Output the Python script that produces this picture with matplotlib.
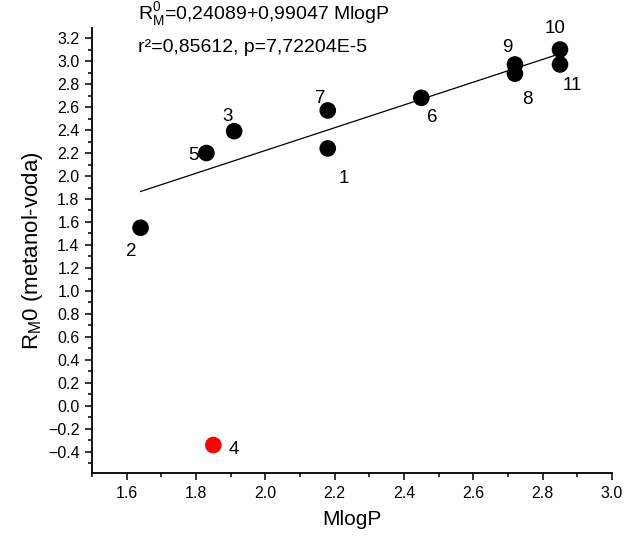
import matplotlib.pyplot as plt
from matplotlib.ticker import MultipleLocator

plt.rcParams['font.family'] = ['Liberation Sans', 'DejaVu Sans']

# podaci
labels = ['1', '2', '3', '4', '5', '6', '7', '8', '9', '10', '11']
mlogp = [2.18, 1.64, 1.91, 1.85, 1.83, 2.45, 2.18, 2.72, 2.72, 2.85, 2.85]
rm0 = [2.24, 1.55, 2.39, -0.34, 2.20, 2.68, 2.57, 2.89, 2.97, 3.10, 2.97]
colors = ['black', 'black', 'black', 'red', 'black', 'black',
          'black', 'black', 'black', 'black', 'black']
# pomak oznaka u pikselima
offsets = [(16, -30), (-9, -24), (-7, 15), (20, -4), (-13, -2), (11, -20),
           (-7, 12), (12, -26), (-8, 17), (-5, 21), (12, -21)]

intercept = 0.24089
slope = 0.99047

fig = plt.figure(figsize=(6.44, 5.43), dpi=100)
ax = fig.add_axes([0.1429, 0.1289, 0.8074, 0.8195])

# regresiona prava (bez tacke 4)
fit_x = [min(mlogp), max(mlogp)]
fit_y = [intercept + slope * x for x in fit_x]
ax.plot(fit_x, fit_y, color='black', lw=0.9)

ax.scatter(mlogp, rm0, s=120, c=colors, zorder=3)

for lab, x, y, off in zip(labels, mlogp, rm0, offsets):
    ax.annotate(lab, (x, y), xytext=off, textcoords='offset pixels',
                ha='center', va='center', fontsize=13.5)

ax.set_xlim(1.5, 3.0)
ax.set_ylim(-0.583, 3.287)
ax.xaxis.set_minor_locator(MultipleLocator(0.1))
ax.yaxis.set_minor_locator(MultipleLocator(0.1))
ax.set_xticks([1.6, 1.8, 2.0, 2.2, 2.4, 2.6, 2.8, 3.0])
ax.set_yticks([round(-0.4 + 0.2 * i, 1) for i in range(19)])
ax.tick_params(which='major', direction='out', length=5, width=1.1,
               labelsize=11.5, pad=4)
ax.tick_params(which='minor', direction='out', length=3, width=1.1)

for side in ['top', 'right']:
    ax.spines[side].set_visible(False)
for side in ['left', 'bottom']:
    ax.spines[side].set_linewidth(1.3)

ax.set_xlabel('MlogP', fontsize=15, labelpad=7)
ax.set_ylabel(r'R$_\mathregular{M}$0 (metanol-voda)', fontsize=16, labelpad=2)

fig.text(0.214, 0.972, r'R$_\mathregular{M}^\mathregular{0}$=0,24089+0,99047 MlogP',
         fontsize=14, va='center')
fig.text(0.214, 0.913, 'r²=0,85612, p=7,72204E-5', fontsize=14, va='center')

fig.savefig('out.png', dpi=100)
